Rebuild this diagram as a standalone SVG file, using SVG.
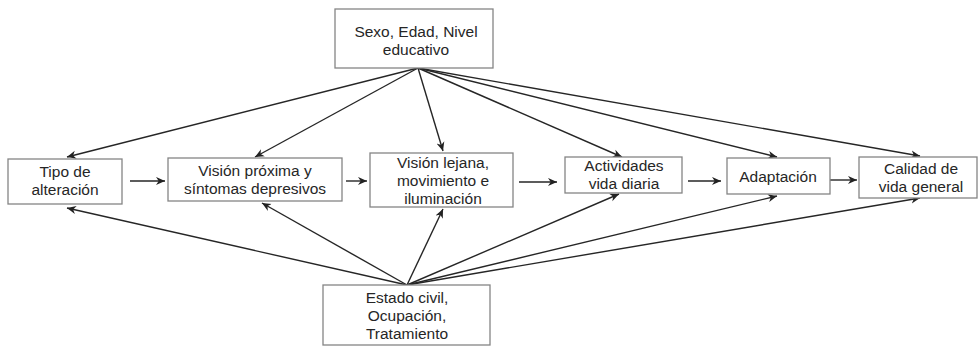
<svg xmlns="http://www.w3.org/2000/svg" width="979" height="347" viewBox="0 0 979 347">
<defs>
<marker id="ah" viewBox="0 0 10 10" refX="10" refY="5" markerWidth="9" markerHeight="9" markerUnits="userSpaceOnUse" orient="auto">
<path d="M0,0.5 L10,5 L0,9.5 L3,5 Z" fill="#222"/>
</marker>
<style>
.box{fill:#fff;stroke:#858585;stroke-width:1.3}
.t{font-family:"Liberation Sans",Arial,sans-serif;font-size:15.5px;fill:#262626;text-anchor:middle}
.c{stroke:#262626;stroke-width:1.4;fill:none;marker-end:url(#ah)}
</style>
</defs>
<rect width="979" height="347" fill="#fff"/>
<g id="connectors">
<line class="c" x1="418" y1="68" x2="67" y2="157"/>
<line class="c" x1="418" y1="68" x2="255" y2="157"/>
<line class="c" x1="418" y1="68" x2="443" y2="151"/>
<line class="c" x1="418" y1="68" x2="622" y2="157"/>
<line class="c" x1="418" y1="68" x2="777" y2="157"/>
<line class="c" x1="418" y1="68" x2="920" y2="156"/>
<line class="c" x1="407" y1="285" x2="67" y2="208"/>
<line class="c" x1="407" y1="285" x2="262" y2="203"/>
<line class="c" x1="407" y1="285" x2="443" y2="209"/>
<line class="c" x1="407" y1="285" x2="619" y2="194"/>
<line class="c" x1="407" y1="285" x2="777" y2="196"/>
<line class="c" x1="407" y1="285" x2="920" y2="198"/>
<line class="c" x1="130" y1="181" x2="165" y2="181"/>
<line class="c" x1="346" y1="181" x2="367" y2="181"/>
<line class="c" x1="519" y1="182" x2="557" y2="182"/>
<line class="c" x1="688" y1="181" x2="721" y2="181"/>
<line class="c" x1="830" y1="180" x2="857" y2="180"/>
</g>
<g id="n-sexo">
<rect class="box" x="335" y="9" width="158" height="59"/>
<text class="t" x="416" y="37">Sexo, Edad, Nivel</text>
<text class="t" x="416" y="55">educativo</text>
</g>
<g id="n-tipo">
<rect class="box" x="8" y="159" width="114" height="45"/>
<text class="t" x="65" y="177">Tipo de</text>
<text class="t" x="65" y="195">alteración</text>
</g>
<g id="n-proxima">
<rect class="box" x="168" y="158" width="174" height="43"/>
<text class="t" x="255" y="176">Visión próxima y</text>
<text class="t" x="255" y="194">síntomas depresivos</text>
</g>
<g id="n-lejana">
<rect class="box" x="370" y="153" width="143" height="54"/>
<text class="t" x="443" y="168">Visión lejana,</text>
<text class="t" x="443" y="186">movimiento e</text>
<text class="t" x="443" y="204">iluminación</text>
</g>
<g id="n-actividades">
<rect class="box" x="565" y="157" width="117" height="36"/>
<text class="t" x="624" y="171">Actividades</text>
<text class="t" x="624" y="189">vida diaria</text>
</g>
<g id="n-adaptacion">
<rect class="box" x="727" y="158" width="103" height="36"/>
<text class="t" x="778" y="182">Adaptación</text>
</g>
<g id="n-calidad">
<rect class="box" x="859" y="157" width="118" height="41"/>
<text class="t" x="921" y="174">Calidad de</text>
<text class="t" x="921" y="192">vida general</text>
</g>
<g id="n-estado">
<rect class="box" x="323" y="285" width="167" height="60"/>
<text class="t" x="407" y="303">Estado civil,</text>
<text class="t" x="407" y="321">Ocupación,</text>
<text class="t" x="407" y="339">Tratamiento</text>
</g>
</svg>
